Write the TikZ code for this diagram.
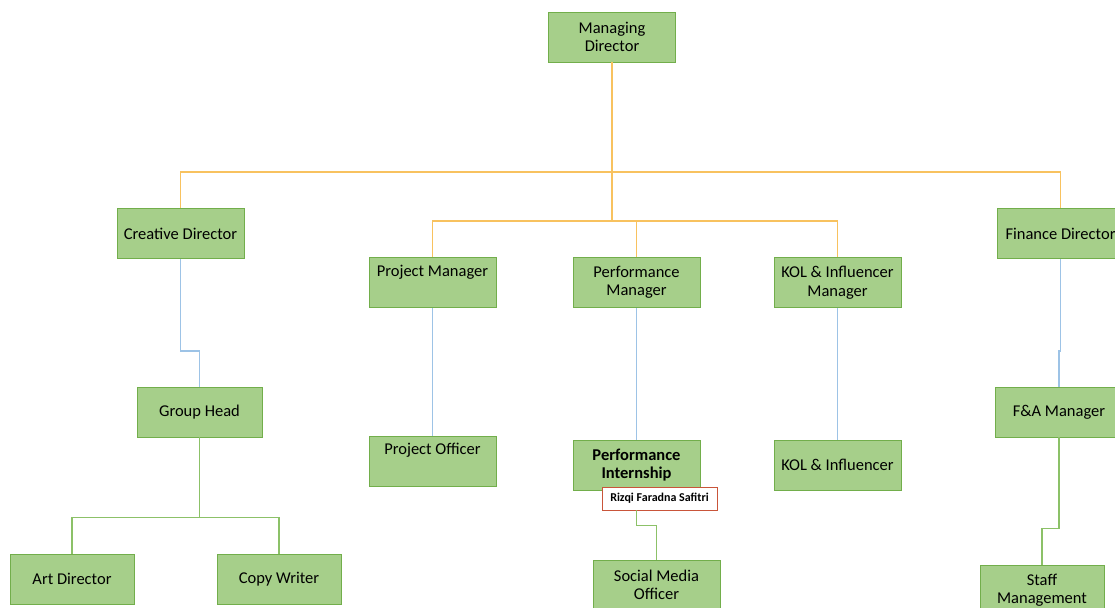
\documentclass[tikz,border=0pt]{standalone}
\usepackage{fontspec}
\setmainfont{Carlito}
\usepackage{xcolor}

\definecolor{rolefill}{HTML}{A6CF8A}
\definecolor{roleline}{HTML}{72AE4B}
\definecolor{topline}{HTML}{F8C25F}
\definecolor{midline}{HTML}{9DC3E6}
\definecolor{lowline}{HTML}{8CC168}
\definecolor{nameline}{HTML}{C9553A}

\begin{document}
\begin{tikzpicture}[x=1pt,y=-1pt,
    role/.style={draw=roleline, line width=0.9pt, fill=rolefill, minimum width=127pt,
        minimum height=50pt, inner sep=0pt, align=center, font=\fontsize{16.5}{18.5}\selectfont},
    smallrole/.style={role, minimum width=124pt},
    tag/.style={draw=nameline, line width=0.9pt, fill=white, minimum width=115pt,
        minimum height=23pt, inner sep=0pt, font=\bfseries\fontsize{12}{14}\selectfont},
    orgedge/.style={draw=topline, line width=1.3pt},
    midedge/.style={draw=midline, line width=1.3pt},
    lowedge/.style={draw=lowline, line width=1.3pt}]
    \useasboundingbox[fill=white] (0,0) rectangle (1115,607);

    % top level
    \node[role] (md) at (612,37) {Managing\\Director};

    % directors and managers
    \node[role] (cd) at (180.5,233.5) {Creative Director};
    \node[role] (fd) at (1060.5,233.5) {Finance Director};
    \node[role] (pm) at (432.5,282.5) {Project Manager\\ \strut};
    \node[role] (perfm) at (636.5,282.5) {Performance\\Manager};
    \node[role] (kolm) at (837.5,282.5) {KOL \& Influencer\\Manager};

    % third row
    \node[role, minimum width=125pt] (gh) at (199.5,412) {Group Head};
    \node[role] (po) at (432.5,461) {Project Officer\\ \strut};
    \node[role, font=\bfseries\fontsize{16.5}{18.5}\selectfont] (pi) at (636.5,465) {Performance\\Internship};
    \node[tag] (rz) at (659.5,498.5) {Rizqi Faradna Safitri};
    \node[role] (kol) at (837.5,465) {KOL \& Influencer};
    \node[role] (fa) at (1059,412) {F\&A Manager};

    % bottom row
    \node[smallrole] (ad) at (72,579) {Art Director};
    \node[smallrole] (cw) at (279,579) {Copy Writer};
    \node[role] (smo) at (656.5,585) {Social Media\\Officer};
    \node[smallrole] (sm) at (1042,590) {Staff\\Management};

    % orange lines
    \coordinate (busa) at (612,172);
    \coordinate (busb) at (612,221);
    \draw[orgedge] (md.south) -- (busa);
    \draw[orgedge] (cd.north) |- (busa) -| (fd.north);
    \draw[orgedge] (busa) -- (busb);
    \draw[orgedge] (pm.north) |- (busb) -| (kolm.north);
    \draw[orgedge] (perfm.north) -- (perfm.north |- busb);

    % blue lines
    \draw[midedge] (cd.south) -- ++(0,92) -| (gh.north);
    \draw[midedge] (pm.south) -- (po.north);
    \draw[midedge] (perfm.south) -- (pi.north);
    \draw[midedge] (kolm.south) -- (kol.north);
    \draw[midedge] (fd.south) -- ++(0,92) -| (fa.north);

    % green lines
    \draw[lowedge] (gh.south) -- ++(0,80) coordinate (ghbus);
    \draw[lowedge] (ad.north) |- (ghbus) -| (cw.north);
    \draw[lowedge] (pi.south |- rz.south) -- ++(0,15) -| (smo.north);
    \draw[lowedge] (fa.south) -- ++(0,91) -| (sm.north);
\end{tikzpicture}
\end{document}
